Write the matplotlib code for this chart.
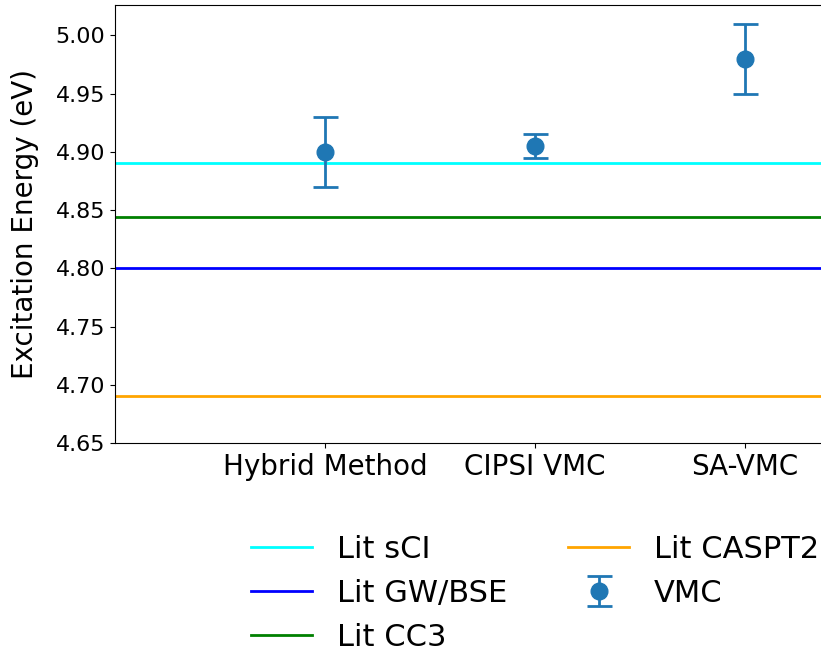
import matplotlib
matplotlib.use("Agg")
import matplotlib.pyplot as plt

# methods on the x axis and their VMC results
METHODS = ["Hybrid Method", "CIPSI VMC", "SA-VMC"]
VMC_ENERGY = [4.90, 4.905, 4.98]
VMC_ERROR = [0.03, 0.01, 0.03]

# literature reference values
LIT_LABELS = ["Lit sCI", "Lit GW/BSE", "Lit CC3", "Lit CASPT2"]
LIT_VALUES = [4.89, 4.80, 4.844, 4.69]
LIT_COLORS = ["cyan", "blue", "green", "orange"]


def main():
    fig = plt.figure(figsize=(8.21, 6.54), dpi=100)
    ax = fig.add_axes([0.1401, 0.3226, 1.0231, 0.6698])

    for label, val, color in zip(LIT_LABELS, LIT_VALUES, LIT_COLORS):
        ax.axhline(val, color=color, linewidth=2, label=label)

    x = list(range(len(METHODS)))
    ax.errorbar(x, VMC_ENERGY, yerr=VMC_ERROR, fmt="o", color="#1f77b4",
                markersize=12, elinewidth=2, capsize=9, capthick=2,
                label="VMC")

    ax.set_xlim(-1, 3)
    ax.set_ylim(4.65, 5.026)
    ax.set_xticks(x)
    ax.set_xticklabels(METHODS, fontsize=20)
    ax.tick_params(axis="y", labelsize=16)
    ax.set_ylabel("Excitation Energy (eV)", fontsize=20, labelpad=12)

    ax.legend(loc="upper center", bbox_to_anchor=(0.6516, 0.2247),
              bbox_transform=fig.transFigure, ncol=2, frameon=False,
              fontsize=22)

    fig.savefig("out.png", dpi=100)


if __name__ == "__main__":
    main()
